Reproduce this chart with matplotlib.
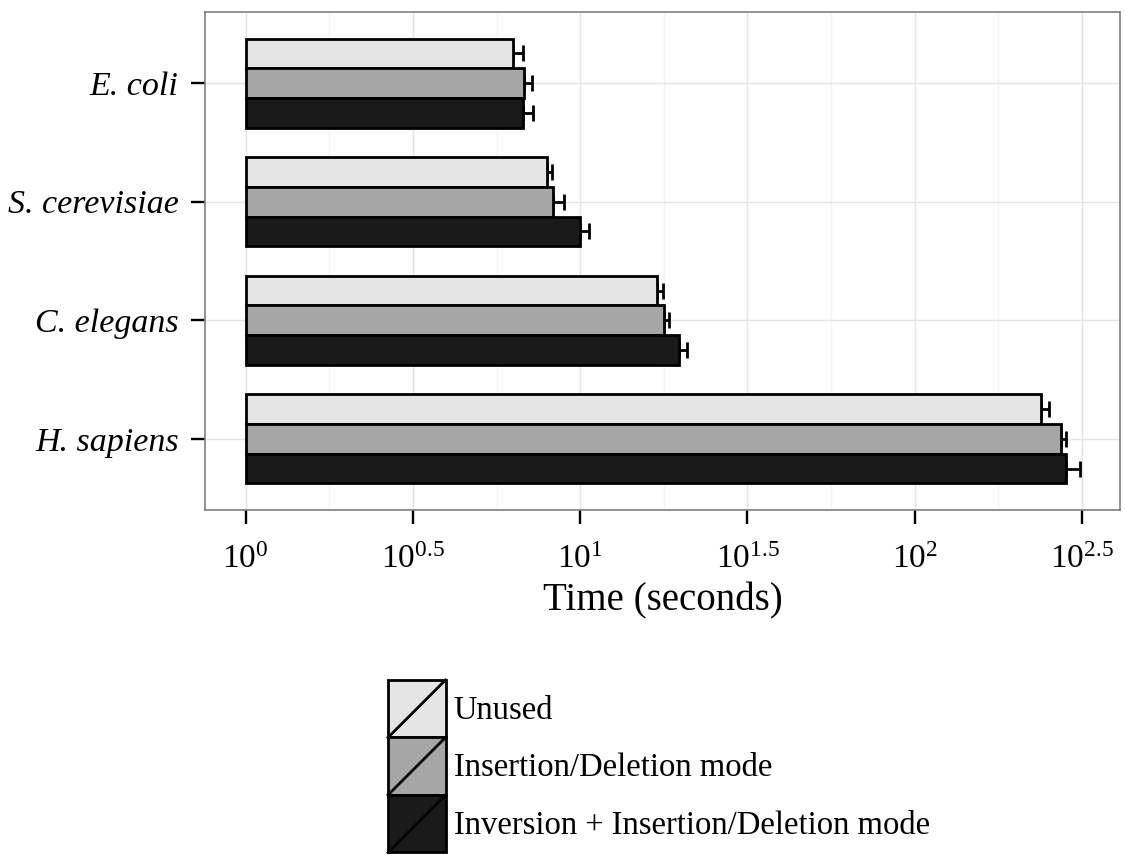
import numpy as np
import matplotlib
matplotlib.use("Agg")
import matplotlib.pyplot as plt
from matplotlib.patches import Rectangle
from matplotlib.lines import Line2D
from matplotlib.legend_handler import HandlerBase
from matplotlib.ticker import FixedLocator, FixedFormatter

plt.rcParams['font.family'] = ['Liberation Serif', 'DejaVu Serif']
plt.rcParams['mathtext.fontset'] = 'custom'
plt.rcParams['mathtext.rm'] = 'Liberation Serif'
plt.rcParams['mathtext.it'] = 'Liberation Serif:italic'

# ---- data ----
species = ["E. coli", "S. cerevisiae", "C. elegans", "H. sapiens"]
modes = ["Unused", "Insertion/Deletion mode", "Inversion + Insertion/Deletion mode"]
unused_time = [6.28, 7.97, 16.92, 237.7]
indel_time = [6.80, 8.31, 17.79, 273.3]
inv_time = [6.76, 9.98, 19.77, 282.3]
unused_err = [0.48, 0.24, 0.78, 13.9]
indel_err = [0.36, 0.63, 0.62, 9.0]
inv_err = [0.45, 0.66, 1.03, 29.2]
tick_exps = [0, 0.5, 1, 1.5, 2, 2.5]
tick_labels = ["$10^{0}$", "$10^{0.5}$", "$10^{1}$", "$10^{1.5}$", "$10^{2}$", "$10^{2.5}$"]

colors = ["#E5E5E5", "#A6A6A6", "#1A1A1A"]
series = [unused_time, indel_time, inv_time]
errs = [unused_err, indel_err, inv_err]

W, H = 1125, 855
fig = plt.figure(figsize=(W / 100, H / 100), dpi=100)
ax = fig.add_axes([205 / W, 1 - 510 / H, 915 / W, 498 / H])

y = np.arange(len(species))
bh = 0.25
offsets = [-bh, 0, bh]
for vals, err, col, off in zip(series, errs, colors, offsets):
    vals = np.array(vals)
    err = np.array(err)
    ax.errorbar(vals, y + off, xerr=[np.zeros_like(err), err], fmt='none',
                ecolor='black', elinewidth=2.0, capsize=5.6, capthick=2.0, zorder=2)
    ax.barh(y + off, vals - 1, left=1, height=bh, color=col, edgecolor='black',
            linewidth=2.0, zorder=3)

ax.set_xscale('log')
ax.set_xlim(10 ** -0.1215, 10 ** 2.6135)
ax.set_ylim(3.6, -0.6)

ax.xaxis.set_major_locator(FixedLocator([10 ** e for e in tick_exps]))
ax.xaxis.set_major_formatter(FixedFormatter(tick_labels))
ax.xaxis.set_minor_locator(FixedLocator([10 ** (e + 0.25) for e in tick_exps]))
ax.xaxis.set_minor_formatter(FixedFormatter([]))
ax.set_yticks(y)
ax.set_yticklabels(species, fontstyle='italic', fontsize=24.5)

ax.grid(True, which='major', color='#E5E5E5', linewidth=1.0, zorder=0)
ax.grid(True, which='minor', axis='x', color='#F4F4F4', linewidth=1.0, zorder=0)
ax.set_axisbelow(True)

ax.tick_params(axis='both', which='major', length=10, width=1.7, color='black', direction='out')
ax.tick_params(axis='x', which='major', labelsize=24, pad=15)
ax.tick_params(axis='y', which='major', pad=9)
ax.tick_params(axis='x', which='minor', length=0)
for s in ax.spines.values():
    s.set_color('#7F7F7F')
    s.set_linewidth(1.2)

ax.set_xlabel("Time (seconds)", fontsize=28, labelpad=5)


class SlashHandler(HandlerBase):
    def create_artists(self, legend, orig_handle, xdescent, ydescent, width, height, fontsize, trans):
        x0, y0 = -xdescent, -ydescent
        r = Rectangle((x0, y0), width, height, facecolor=orig_handle.get_facecolor(),
                      edgecolor='black', linewidth=2.0, transform=trans)
        l = Line2D([x0, x0 + width], [y0, y0 + height], color='black', linewidth=2.0,
                   transform=trans)
        return [r, l]


handles = [Rectangle((0, 0), 1, 1, facecolor=c) for c in colors]
fs = 23.5
em = fs * 100 / 72
key = 57.5
hh = (key / em - 0.245) / 0.65
leg = fig.legend(handles, modes, loc='upper left',
                 bbox_to_anchor=(388 / W, 1 - 680 / H), bbox_transform=fig.transFigure,
                 frameon=False, fontsize=fs, handlelength=key / em, handleheight=hh,
                 labelspacing=0, handletextpad=8 / em, borderpad=0, borderaxespad=0,
                 handler_map={Rectangle: SlashHandler()})

fig.savefig("out.png", dpi=100)
